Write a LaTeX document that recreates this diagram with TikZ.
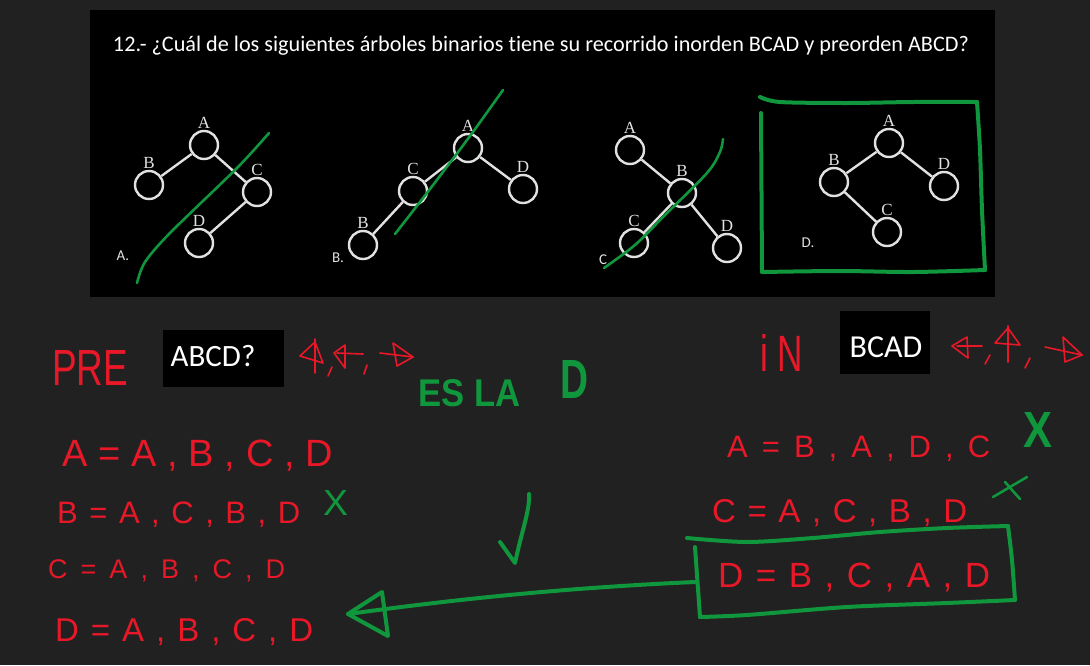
\documentclass[tikz,border=0pt]{standalone}
\usepackage{fontspec}
\usepackage{graphicx}
\setmainfont{Carlito}
\newfontfamily\serif{Liberation Serif}
\newfontfamily\hand{Liberation Sans}
\definecolor{bg}{RGB}{33,33,33}
\definecolor{hred}{RGB}{232,24,40}
\definecolor{hgreen}{RGB}{16,150,60}
\definecolor{ink}{RGB}{225,225,225}
\tikzset{
 tnode/.style={circle, draw=ink, line width=2.4pt, minimum size=28pt, inner sep=0pt},
 tedge/.style={draw=ink, line width=2.4pt},
 tlbl/.style={font=\serif\fontsize{17}{17}\selectfont, text=ink, inner sep=1pt},
 optlbl/.style={font=\fontsize{15}{15}\selectfont, text=ink, inner sep=0pt},
 gthin/.style={draw=hgreen, line width=2.6pt, line cap=round, line join=round},
 gthick/.style={draw=hgreen, line width=4pt, line cap=round, line join=round},
 rstroke/.style={draw=hred, line width=1.6pt, line cap=round, line join=round},
 hline/.style={text=hred, anchor=base west, inner sep=0pt, font=\hand},
 gtext/.style={text=hgreen, anchor=base west, inner sep=0pt, font=\hand\bfseries},
}
\begin{document}
\begin{tikzpicture}[x=1pt,y=-1pt]
\useasboundingbox[fill=bg] (0,0) rectangle (1090,665);
\fill[black] (90,10) rectangle (995,297);
\node[font=\addfontfeature{Ligatures=NoCommon}\fontsize{22.2}{22.2}\selectfont, text=white] (title) at (541,46) {12.- ¿Cuál de los siguientes árboles binarios tiene su recorrido inorden BCAD y preorden ABCD?};

% Tree A
\node[tnode, label={[tlbl]above:A}] (aA) at (204,145) {};
\node[tnode, label={[tlbl]above:B}] (aB) at (149,185) {};
\node[tnode, label={[tlbl]above:C}] (aC) at (257,192) {};
\node[tnode, label={[tlbl]above:D}] (aD) at (199,243) {};
\draw[tedge] (aA) -- (aB); \draw[tedge] (aA) -- (aC); \draw[tedge] (aC) -- (aD);
\node[optlbl] (oA) at (123,256) {A.};
% Tree B
\node[tnode, label={[tlbl]above:A}] (bA) at (468,148) {};
\node[tnode, label={[tlbl]above:C}] (bC) at (413,191) {};
\node[tnode, label={[tlbl]above:D}] (bD) at (523,189) {};
\node[tnode, label={[tlbl]above:B}] (bB) at (363,245) {};
\draw[tedge] (bA) -- (bC); \draw[tedge] (bA) -- (bD); \draw[tedge] (bC) -- (bB);
\node[optlbl] (oB) at (338,258) {B.};
% Tree C
\node[tnode, label={[tlbl]above:A}] (cA) at (630,150) {};
\node[tnode, label={[tlbl]above:B}] (cB) at (682,193) {};
\node[tnode, label={[tlbl]above:C}] (cC) at (634,243) {};
\node[tnode, label={[tlbl]above:D}] (cD) at (727,248) {};
\draw[tedge] (cA) -- (cB); \draw[tedge] (cB) -- (cC); \draw[tedge] (cB) -- (cD);
\node[optlbl] (oC) at (603,260) {C};
% Tree D
\node[tnode, label={[tlbl]above:A}] (dA) at (889,143) {};
\node[tnode, label={[tlbl]above:B}] (dB) at (834,182) {};
\node[tnode, label={[tlbl]above:D}] (dD) at (944,186) {};
\node[tnode, label={[tlbl]above:C}] (dC) at (887,232) {};
\draw[tedge] (dA) -- (dB); \draw[tedge] (dA) -- (dD); \draw[tedge] (dB) -- (dC);
\node[optlbl] (oD) at (808,243) {D.};

% green strokes over trees
\draw[gthin] plot[smooth] coordinates {(137,283) (145,262) (170,233) (237,168) (269,133)};
\draw[gthin] plot[smooth] coordinates {(395,234) (430,189) (470,136) (503,90)};
\draw[gthin] plot[smooth] coordinates {(604,268) (635,245) (663,217) (707,173) (720,152) (723,139)};
\draw[gthick] plot[smooth] coordinates {(760,97) (780,102) (847,103) (913,102) (977,102)};
\draw[gthick] plot[smooth] coordinates {(977,102) (980,150) (982,210) (985,270)};
\draw[gthick] plot[smooth] coordinates {(985,270) (913,272) (840,271) (762,272)};
\draw[gthick] (761,113) -- (762,272);

% black boxes
\node[fill=black, minimum width=121pt, minimum height=57pt, inner sep=0pt] (boxpre) at (223.5,358.5) {};
\node[font=\fontsize{31}{31}\selectfont, text=white, inner sep=0pt] (tpre) at (213,356) {ABCD?};
\node[fill=black, minimum width=90pt, minimum height=63pt, inner sep=0pt] (boxin) at (885,342.5) {};
\node[font=\fontsize{32}{32}\selectfont, text=white, inner sep=0pt] (tin) at (886,347) {BCAD};

% handwritten labels
\node[hline] (pre) at (52,385) {\resizebox{76pt}{35pt}{PRE}};
\node[hline] (inlbl) at (760,371) {\resizebox{43pt}{37pt}{i N}};
\node[gtext] (esla) at (418,406) {\resizebox{102pt}{27pt}{ES LA}};
\node[gtext] (bigD) at (560,398) {\resizebox{28pt}{38pt}{D}};

% traversal symbols PRE
\draw[rstroke] (300,356) -- (315,342) -- (323,363) -- cycle;
\draw[rstroke] (315,339) -- (315,373);
\draw[rstroke] (332,367) -- (328,376);
\draw[rstroke] (345,345) -- (334,353) -- (345,368) -- cycle;
\draw[rstroke] (337,353) -- (363,354);
\draw[rstroke] (367,365) -- (364,374);
\draw[rstroke] (380,353) -- (413,357);
\draw[rstroke] (393,343) -- (413,357) -- (397,366) -- cycle;
% traversal symbols IN
\draw[rstroke] (967,337) -- (952,346) -- (968,358) -- cycle;
\draw[rstroke] (957,346) -- (982,346);
\draw[rstroke] (990,355) -- (985,364);
\draw[rstroke] (995,343) -- (1008,328) -- (1020,345) -- cycle;
\draw[rstroke] (1008,326) -- (1008,362);
\draw[rstroke] (1030,358) -- (1025,368);
\draw[rstroke] (1045,347) -- (1082,355);
\draw[rstroke] (1063,337) -- (1082,355) -- (1065,362) -- cycle;

% PRE lines
\node[hline, font=\hand\fontsize{38}{38}\selectfont] (pA) at (62,466) {\makebox[271pt][s]{A = A , B , C , D}};
\node[hline, font=\hand\fontsize{31}{31}\selectfont] (pB) at (57,523) {\makebox[243pt][s]{B = A , C , B , D}};
\node[hline, font=\hand\fontsize{27}{27}\selectfont] (pC) at (48,578) {\makebox[237pt][s]{C = A , B , C , D}};
\node[hline, font=\hand\fontsize{33}{33}\selectfont] (pD) at (55,641) {\makebox[258pt][s]{D = A , B , C , D}};
% IN lines
\node[hline, font=\hand\fontsize{31}{31}\selectfont] (iA) at (727,457) {\makebox[263pt][s]{A = B , A , D , C}};
\node[hline, font=\hand\fontsize{33}{33}\selectfont] (iC) at (712,522) {\makebox[255pt][s]{C = A , C , B , D}};
\node[hline, font=\hand\fontsize{35}{35}\selectfont] (iD) at (718,587) {\makebox[272pt][s]{D = B , C , A , D}};

% green marks
\node[gtext, font=\hand] (x1) at (323,515) {\resizebox{25pt}{25pt}{X}};
\node[gtext] (x2) at (1023,447) {\resizebox{29pt}{35pt}{X}};
\draw[gthin] (993,497) -- (1027,477);
\draw[gthin] (1005,482) -- (1020,499);
\draw[gthick] (500,542) -- (515,563) .. controls (522,530) and (530,510) .. (529,494);

% green box around D line
\draw[gthick] plot[smooth] coordinates {(687,538) (747,542) (813,538) (880,532) (947,528) (1008,526)};
\draw[gthick] plot[smooth] coordinates {(1008,526) (1012,560) (1015,600)};
\draw[gthick] plot[smooth] coordinates {(1015,600) (947,603) (847,607) (747,615) (700,617)};
\draw[gthick] (695,547) -- (700,617);

% arrow
\coordinate (dboxW) at (695,582);
\coordinate (tip) at (348,614);
\draw[gthick] (dboxW) .. controls (560,588) and (450,600) .. (tip);
\draw[gthick] (tip) -- (382,592) -- (388,636) -- cycle;
\end{tikzpicture}
\end{document}
